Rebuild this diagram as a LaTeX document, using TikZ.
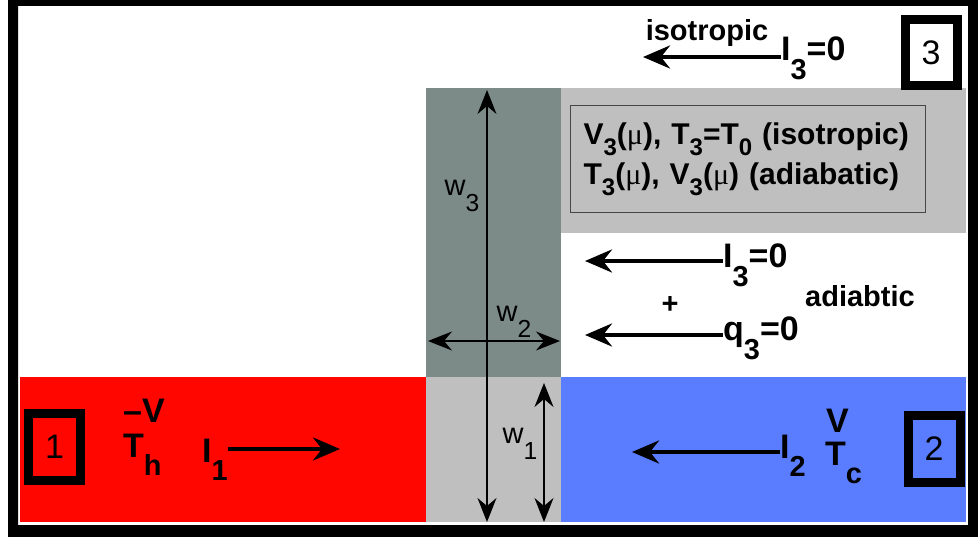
\documentclass[tikz,border=0pt]{standalone}
\usepackage{fontspec}
\setmainfont{Liberation Sans}
\newfontfamily\greekfont{Liberation Serif}
\usepackage{graphicx}
\usetikzlibrary{arrows.meta, positioning}
\definecolor{hotred}{RGB}{255,6,0}
\definecolor{coldblue}{RGB}{90,125,255}
\definecolor{wallgray}{RGB}{124,139,136}
\definecolor{padgray}{RGB}{191,191,191}
\definecolor{rimgray}{RGB}{70,70,70}
\newcommand{\dn}[1]{\raisebox{-0.55em}{\scalebox{0.85}{#1}}}
\newcommand{\lo}[1]{\raisebox{-0.38em}{\scalebox{0.8}{#1}}}
\newcommand{\mug}{{\greekfont\mdseries μ}}

\begin{document}
\begin{tikzpicture}[x=1pt, y=-1pt,
        lbl/.style={font=\fontsize{34}{36}\selectfont\bfseries, inner sep=0pt},
        tag/.style={font=\fontsize{29}{31}\selectfont\bfseries, inner sep=0pt},
        wlbl/.style={font=\fontsize{29}{31}\selectfont, inner sep=0pt},
        numbox/.style={draw, line width=9pt, minimum width=52pt, minimum height=66pt,
                       inner sep=0pt, font=\fontsize{34}{36}\selectfont},
        flow/.style={line width=4pt, -{Stealth[length=27pt, width=23pt, inset=9pt]}},
        span/.style={line width=1.2pt, {Stealth[length=24pt, width=19pt, inset=8pt]}-{Stealth[length=24pt, width=19pt, inset=8pt]}}]
      \useasboundingbox (0,0) rectangle (978,537);
      \fill[black, even odd rule] (8,0) rectangle (978,537) (18,6) rectangle (968,525);
      \fill[hotred] (20,377) rectangle (426,522);
      \fill[padgray] (426,377) rectangle (561,522);
      \fill[coldblue] (561,377) rectangle (966,522);
      \fill[wallgray] (426,88) rectangle (561,377);
      \fill[padgray] (561,88) rectangle (966,233);
      \node[draw=rimgray, line width=1.2pt, fill=padgray, anchor=north west,
            minimum width=355pt, minimum height=107pt, text width=329pt, inner xsep=13pt,
            align=left, font=\fontsize{30}{40}\selectfont\bfseries] (props) at (570,105)
            {V\lo{3}(\mug), T\lo{3}=T\lo{0} (isotropic)\\T\lo{3}(\mug), V\lo{3}(\mug) (adiabatic)};

      \coordinate (w3top) at (487,90);
      \coordinate (w3bot) at (487,522);
      \coordinate (w2lft) at (428,341);
      \coordinate (w2rgt) at (560,341);
      \coordinate (w1top) at (544,383);
      \coordinate (w1bot) at (544,522);
      \draw[span] (w3top) -- (w3bot);
      \draw[span] (w2lft) -- (w2rgt);
      \draw[span] (w1top) -- (w1bot);
      \node[wlbl] (w3) at (462,196) {w\dn{3}};
      \node[wlbl] (w2) at (514,322) {w\dn{2}};
      \node[wlbl] (w1) at (520,444) {w\dn{1}};

      \node[tag] (iso) at (707,33) {isotropic};
      \node[lbl, anchor=base west] (itop) at (781,61) {I\dn{3}=0};
      \coordinate (itoptip) at (643,57);
      \draw[flow] ([yshift=4pt]itop.base west) -- (itoptip);
      \node[numbox] (n3) at (931,53) {3};

      \node[lbl, anchor=base west] (imid) at (723,268) {I\dn{3}=0};
      \coordinate (imidtip) at (585,261);
      \draw[flow] ([yshift=7pt]imid.base west) -- (imidtip);
      \node[tag] (plus) at (670,305) {+};
      \node[lbl, anchor=base west] (qmid) at (723,341) {q\dn{3}=0};
      \coordinate (qmidtip) at (585,335);
      \draw[flow] ([yshift=6pt]qmid.base west) -- (qmidtip);
      \node[tag] (adi) at (860,296) {adiabtic};

      \node[numbox] (n1) at (54.5,447) {1};
      \node[lbl, anchor=base west] (th) at (123,457) {T\dn{h}};
      \node[lbl, anchor=base west] (vh) at (123,423) {--V};
      \node[lbl, anchor=base west] (i1) at (202,462) {I\dn{1}};
      \coordinate (i1tip) at (340,449);
      \draw[flow] ([yshift=13pt]i1.base east) -- (i1tip);

      \node[numbox] (n2) at (934,449) {2};
      \node[lbl, anchor=base west] (tc) at (825,465) {T\dn{c}};
      \node[lbl, anchor=base west] (vc) at (826,432) {V};
      \node[lbl, anchor=base west] (i2) at (780,458) {I\dn{2}};
      \coordinate (i2tip) at (632,452);
      \draw[flow] ([yshift=6pt]i2.base west) -- (i2tip);
    \end{tikzpicture}
\end{document}
